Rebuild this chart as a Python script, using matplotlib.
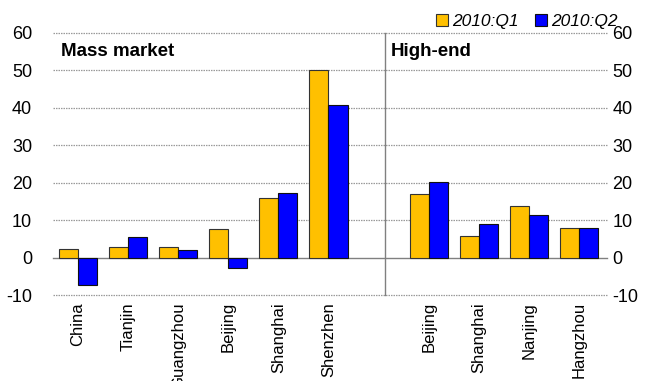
import matplotlib
matplotlib.use("Agg")
import matplotlib.pyplot as plt
import numpy as np

plt.rcParams['font.family'] = ['Liberation Sans', 'DejaVu Sans']

# Category labels (index 6 is an empty separator slot)
categories = ["China", "Tianjin", "Guangzhou", "Beijing", "Shanghai", "Shenzhen",
              "", "Beijing", "Shanghai", "Nanjing", "Hangzhou"]
q1_values = [2.3, 2.9, 2.9, 7.6, 15.8, 50.2, np.nan, 16.9, 5.7, 13.7, 7.8]
q2_values = [-7.4, 5.5, 1.9, -2.9, 17.3, 40.7, np.nan, 20.1, 9.0, 11.5, 7.8]
series_names = ["2010:Q1", "2010:Q2"]
yticks = [-10, 0, 10, 20, 30, 40, 50, 60]

col_q1 = "#FFC000"
col_q2 = "#0000FF"

fig = plt.figure(figsize=(6.51, 3.81), dpi=100)
ax = fig.add_axes([0.0814, 0.2257, 0.8510, 0.6877])

x = np.arange(len(categories))
w = 0.38
ax.bar(x - w / 2, q1_values, width=w, color=col_q1, edgecolor="#333333",
       linewidth=0.8, zorder=3, label=series_names[0])
ax.bar(x + w / 2, q2_values, width=w, color=col_q2, edgecolor="#111111",
       linewidth=0.8, zorder=3, label=series_names[1])

ax.set_xlim(-0.5, 10.56)
ax.set_ylim(-10, 60)

for yv in yticks:
    if yv == 0:
        ax.axhline(0, color="#808080", lw=1.0, zorder=2, clip_on=False)
    else:
        ax.axhline(yv, color="#9a9a9a", lw=0.9, ls=(0, (1.2, 0.8)), zorder=1,
                   clip_on=False)

# divider between the two panels
ax.axvline(6.12, color="#808080", lw=1.0, zorder=2, clip_on=False)

for s in ax.spines.values():
    s.set_visible(False)

ax.set_yticks(yticks)
ax.set_yticklabels([str(v) for v in yticks], fontsize=13)
ax.tick_params(axis="y", length=0, pad=15)

ax2 = ax.twinx()
ax2.set_ylim(-10, 60)
ax2.set_yticks(yticks)
ax2.set_yticklabels([str(v) for v in yticks], fontsize=13)
ax2.tick_params(axis="y", length=0, pad=4)
for s in ax2.spines.values():
    s.set_visible(False)

ax.set_xticks([i for i in x if categories[i]])
ax.set_xticklabels([c for c in categories if c], rotation=90, fontsize=12,
                   va="top", ha="center")
ax.tick_params(axis="x", length=0, pad=5)

ax.text(0.015, 0.96, "Mass market", transform=ax.transAxes, fontsize=13.5,
        fontweight="bold", va="top", ha="left")
ax.text(0.61, 0.96, "High-end", transform=ax.transAxes, fontsize=13.5,
        fontweight="bold", va="top", ha="left")

leg = ax.legend(loc="lower right", bbox_to_anchor=(1.038, 0.975), ncol=2,
                frameon=False, fontsize=12.5, handlelength=0.7, handleheight=0.7,
                handletextpad=0.25, columnspacing=0.9, borderpad=0.1)
for t in leg.get_texts():
    t.set_fontstyle("italic")

fig.text(0.005, 1.007, "(Year on year, in percent; property prices)",
         fontsize=12, va="baseline", ha="left")

fig.savefig("out.png", dpi=100)
